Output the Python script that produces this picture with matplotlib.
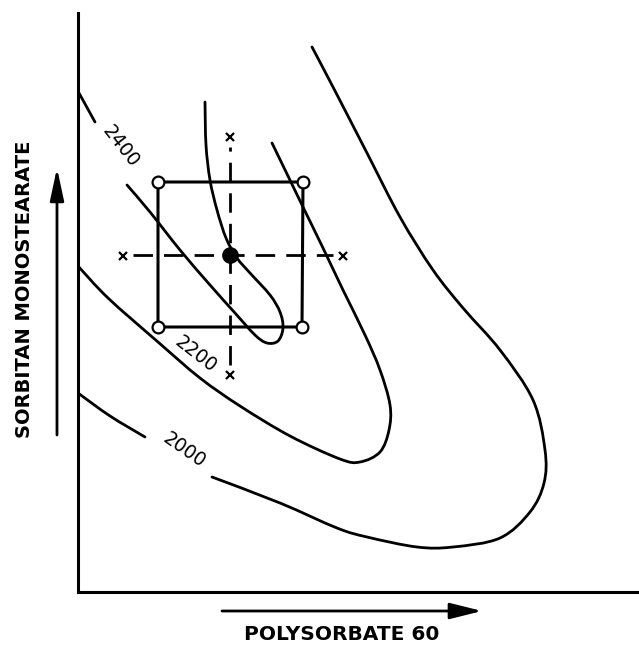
import matplotlib
matplotlib.use("Agg")
import matplotlib.pyplot as plt
from matplotlib.path import Path
from matplotlib.patches import PathPatch
import numpy as np

# contour lines (x = polysorbate, y = sorbitan, arbitrary units)
c2000_a_x = [0, 32, 67]
c2000_a_y = [199, 176, 155]
c2000_b_x = [134, 202, 259, 289, 339, 375, 422, 452, 466, 467, 455, 422, 385, 355, 322, 289, 255, 234]
c2000_b_y = [115, 89, 64, 55, 45, 45, 54, 80, 109, 142, 192, 242, 284, 322, 375, 439, 505, 545]

c2200_x = [0, 30, 80, 122, 162, 212, 262, 282, 302, 311, 312, 302, 287, 265, 245, 225, 210, 194]
c2200_y = [326, 294, 250, 214, 186, 156, 133, 130, 140, 162, 187, 222, 257, 302, 344, 385, 416, 449]

c2400_a_x = [1, 17]
c2400_a_y = [499, 470]
c2400_b_x = [49, 72, 102, 132, 157, 177, 189, 200, 205, 202, 192, 172, 159, 148, 139, 132, 128, 127]
c2400_b_y = [407, 380, 342, 307, 279, 257, 249, 251, 264, 280, 297, 319, 334, 354, 382, 412, 447, 490]

labels = ["2000", "2200", "2400"]
label_x = [106, 118, 43]
label_y = [142, 238, 446]
label_rot = [-35, -38, -52]

# central composite design
corner_x = [80, 225, 80, 224]
corner_y = [410, 410, 265, 265]
center_x, center_y = 152, 337
axial_x = [152, 152, 45, 265]
axial_y = [455, 217, 336, 336]


def smooth(xs, ys):
    # Catmull-Rom through the points, drawn as cubic Bezier pieces
    p = np.column_stack([xs, ys]).astype(float)
    p = np.vstack([p[0], p, p[-1]])
    verts = [p[1]]
    codes = [Path.MOVETO]
    for i in range(1, len(p) - 2):
        c1 = p[i] + (p[i + 1] - p[i - 1]) / 6
        c2 = p[i + 1] - (p[i + 2] - p[i]) / 6
        verts += [c1, c2, p[i + 1]]
        codes += [Path.CURVE4] * 3
    return Path(verts, codes)


fig = plt.figure(figsize=(6.39, 6.51), dpi=100)
ax = fig.add_axes([78 / 639, 59 / 651, 561 / 639, 579 / 651])
ax.set_xlim(0, 561)
ax.set_ylim(0, 579)
for s in ["top", "right"]:
    ax.spines[s].set_visible(False)
for s in ["left", "bottom"]:
    ax.spines[s].set_linewidth(2.2)
ax.set_xticks([])
ax.set_yticks([])

lw = 2.0
for xs, ys in [(c2000_a_x, c2000_a_y), (c2000_b_x, c2000_b_y), (c2200_x, c2200_y),
               (c2400_a_x, c2400_a_y), (c2400_b_x, c2400_b_y)]:
    ax.add_patch(PathPatch(smooth(xs, ys), fill=False, lw=lw, color="black", capstyle="round"))

for t, x, y, r in zip(labels, label_x, label_y, label_rot):
    ax.text(x, y, t, rotation=r, ha="center", va="center", fontsize=13.5, rotation_mode="anchor")

# dashed cross through the centre
ax.plot([axial_x[2] + 10, axial_x[3] - 10], [center_y, center_y], color="black", lw=2, dashes=(7, 4))
ax.plot([center_x, center_x], [axial_y[1] + 10, axial_y[0] - 10], color="black", lw=2, dashes=(7, 4))

# square of factorial points
sq_x = [corner_x[0], corner_x[1], corner_x[3], corner_x[2], corner_x[0]]
sq_y = [corner_y[0], corner_y[1], corner_y[3], corner_y[2], corner_y[0]]
ax.plot(sq_x, sq_y, color="black", lw=2.2)
ax.plot(corner_x, corner_y, "o", ms=8.5, mfc="white", mec="black", mew=1.6)
ax.plot(center_x, center_y, "o", ms=11, color="black")
ax.plot(axial_x, axial_y, "x", ms=5.5, mew=1.6, color="black")

# axis labels with arrows
ax.annotate("", xy=(404, -19), xytext=(144, -19), annotation_clip=False,
            arrowprops=dict(arrowstyle="-|>,head_length=1.4,head_width=0.35", lw=2, color="black",
                            mutation_scale=14, shrinkA=0, shrinkB=0))
ax.annotate("", xy=(-21, 424), xytext=(-21, 157), annotation_clip=False,
            arrowprops=dict(arrowstyle="-|>,head_length=1.4,head_width=0.3", lw=2, color="black",
                            mutation_scale=14, shrinkA=0, shrinkB=0))
ax.text(264, -43, "POLYSORBATE 60", ha="center", va="center", fontsize=14.5,
        fontweight="bold", clip_on=False)
ax.text(-53, 303, "SORBITAN MONOSTEARATE", ha="center", va="center", rotation=90,
        fontsize=14, fontweight="bold", clip_on=False)

fig.savefig("out.png", dpi=100)
